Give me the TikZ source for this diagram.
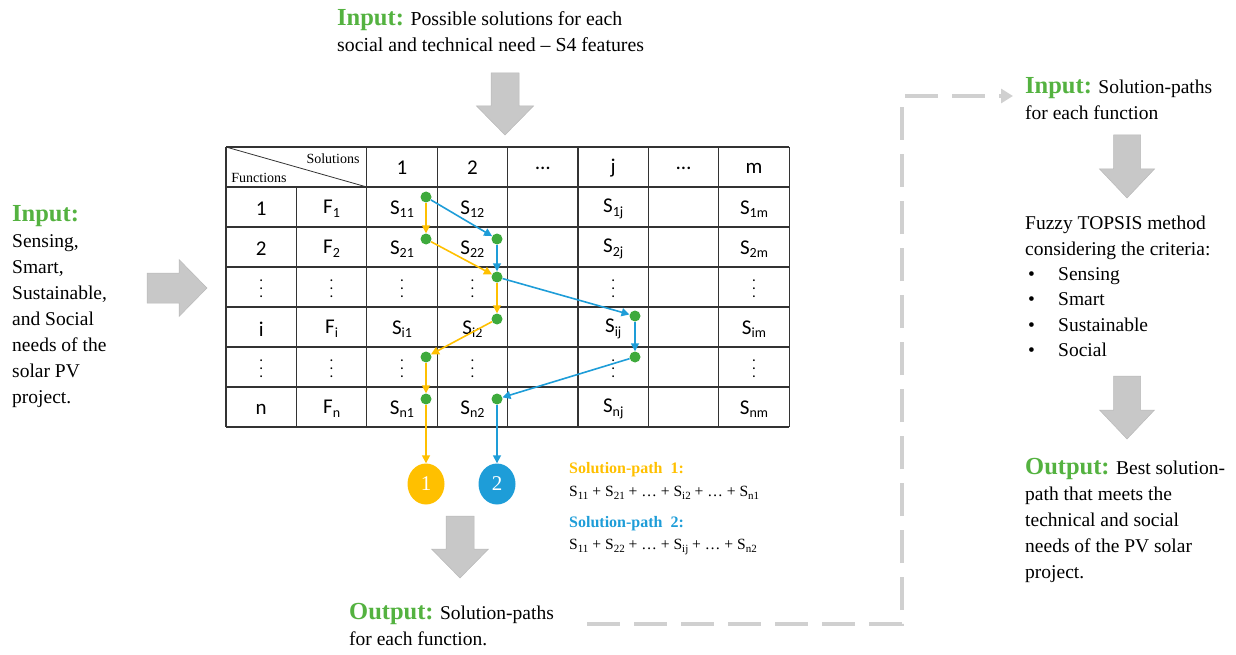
\documentclass[tikz,border=0pt]{standalone}
\usepackage{fontspec}
\setmainfont{Liberation Serif}
\newfontfamily\tablefont{Carlito}
\usepackage{tikz}
\usetikzlibrary{positioning,calc,arrows.meta,shapes.geometric}

\definecolor{ingreen}{RGB}{84,178,64}
\definecolor{dotgreen}{RGB}{62,170,60}
\definecolor{pathyellow}{RGB}{255,192,0}
\definecolor{pathblue}{RGB}{30,157,216}
\definecolor{arrowgray}{RGB}{200,200,200}
\definecolor{dashgray}{RGB}{208,208,208}

% subscripts in the table and in the legend
\newcommand{\tsub}[1]{\raisebox{-3.5pt}{\fontsize{14}{14}\selectfont #1}}
\newcommand{\lsub}[1]{\raisebox{-3pt}{\fontsize{11}{11}\selectfont #1}}
\newcommand{\vd}{{\fontsize{15}{15}\selectfont\vbox{\baselineskip=8pt\lineskiplimit=0pt\hbox{.}\hbox{.}\hbox{.}}}}
\newcommand{\hd}[1]{{\fontsize{24.5}{26}\selectfont\bfseries\color{ingreen}#1}}
\newcommand{\bul}{\hspace{3pt}\makebox[30pt][l]{\textbullet}}

\tikzset{
  body/.style={anchor=north west, inner sep=0pt, align=left, font=\fontsize{19.5}{26}\selectfont},
  cell/.style={inner sep=0pt, font=\tablefont\fontsize{21}{21}\selectfont},
  gridline/.style={draw=black!80, line width=1.2pt},
  pathdot/.style={circle, fill=dotgreen, inner sep=0pt, minimum size=11pt},
  ypath/.style={draw=pathyellow, line width=1.6pt, -{Triangle[length=8pt,width=8pt]}},
  bpath/.style={draw=pathblue, line width=1.6pt, -{Triangle[length=8pt,width=8pt]}},
  pathend/.style={ellipse, minimum width=37pt, minimum height=41pt, inner sep=0pt, text=white, font=\fontsize{21}{21}\selectfont},
  blockarrow/.style={fill=arrowgray, draw=gray!55, line width=0.5pt},
  dashlink/.style={draw=dashgray, line width=4pt, dash pattern=on 33pt off 14pt, -{Triangle[length=12pt,width=14pt]}},
}

\begin{document}
\begin{tikzpicture}[x=1pt, y=-1pt]
  \useasboundingbox (0,0) rectangle (1236,655);

  % Texts
  \node[body, font=\fontsize{19.8}{26}\selectfont] (topin) at (337,9.5) {\hd{Input:} Possible solutions for each\\social and technical need -- S4 features};
  \node[body] (leftin) at (12,205) {\hd{Input:}\\Sensing,\\Smart,\\Sustainable,\\and Social\\needs of the\\solar PV\\project.};
  \node[body] (botout) at (349,603) {\hd{Output:} Solution-paths\\for each function.};
  \node[body] (rin) at (1025,77) {\hd{Input:} Solution-paths\\for each function};
  \node[body, font=\fontsize{19.5}{25.4}\selectfont] (fuzzy) at (1025,216) {Fuzzy TOPSIS method\\considering the criteria:\\\bul Sensing\\\bul Smart\\\bul Sustainable\\\bul Social};
  \node[body] (rout) at (1025,458) {\hd{Output:} Best solution-\\path that meets the\\technical and social\\needs of the PV solar\\project.};

  % Block arrows
  \draw[blockarrow, shift={(505,73)}] (-14,0) -- (14,0) -- (14,33) -- (28.5,33) -- (0,62) -- (-28.5,33) -- (-14,33) -- cycle;
  \draw[blockarrow, shift={(147,288)}] (0,-15) -- (32,-15) -- (32,-28.5) -- (60,0) -- (32,28.5) -- (32,15) -- (0,15) -- cycle;
  \draw[blockarrow, shift={(460,516)}] (-14,0) -- (14,0) -- (14,33) -- (28.5,33) -- (0,62) -- (-28.5,33) -- (-14,33) -- cycle;
  \draw[blockarrow, shift={(1127,135)}] (-13.5,0) -- (13.5,0) -- (13.5,34) -- (27.5,34) -- (0,63) -- (-27.5,34) -- (-13.5,34) -- cycle;
  \draw[blockarrow, shift={(1127,376)}] (-13.5,0) -- (13.5,0) -- (13.5,34) -- (27.5,34) -- (0,63) -- (-27.5,34) -- (-13.5,34) -- cycle;

  % Dashed link to the fuzzy TOPSIS step
  \coordinate (dashstart) at (587,624);
  \coordinate (dashturn) at (902,96);
  \coordinate (dashend) at (1013,96);
  \draw[dashlink] (dashstart) -| (dashturn) -- (dashend);

  % Table
  \foreach \r in {0,...,7}
    \draw[gridline] (226,147+40*\r) -- (789.2,147+40*\r);
  \foreach \c in {0,2,3,4,5,6,7,8}
    \draw[gridline] (226+70.4*\c,147) -- (226+70.4*\c,427);
  \draw[gridline] (296.4,187) -- (296.4,427);
  \draw[black!80, line width=0.8pt] (226,147) -- (366.8,187);
  \node[font=\fontsize{14}{14}\selectfont] (solhd) at (333,159) {Solutions};
  \node[font=\fontsize{14}{14}\selectfont] (funhd) at (259,178) {Functions};

  \foreach \t [count=\c from 2] in {1,2,…,j,…,m}
    \node[cell] (h\c) at (261.2+70.4*\c,168) {\t};

  \foreach \n/\f/\sa/\sb/\sj/\sm [count=\r] in {
      1/F\tsub{1}/S\tsub{11}/S\tsub{12}/S\tsub{1j}/S\tsub{1m},
      2/F\tsub{2}/S\tsub{21}/S\tsub{22}/S\tsub{2j}/S\tsub{2m},
      \vd/\vd/\vd/\vd/\vd/\vd,
      i/F\tsub{i}/S\tsub{i1}/S\tsub{i2}/S\tsub{ij}/S\tsub{im},
      \vd/\vd/\vd/\vd/\vd/\vd,
      n/F\tsub{n}/S\tsub{n1}/S\tsub{n2}/S\tsub{nj}/S\tsub{nm}} {
    \node[cell] (n\r) at (261.2,169+40*\r) {\n};
    \node[cell] (f\r) at (331.6,169+40*\r) {\f};
    \node[cell] (sa\r) at (402,169+40*\r) {\sa};
    \node[cell] (sb\r) at (472.4,169+40*\r) {\sb};
    \node[cell] (sj\r) at (613.2,169+40*\r) {\sj};
    \node[cell] (sm\r) at (754,169+40*\r) {\sm};
  }

  % Solution-path dots
  \node[pathdot] (d11) at (426,197) {};
  \node[pathdot] (d21) at (426,239) {};
  \node[pathdot] (d22) at (497,239) {};
  \node[pathdot] (d32) at (497,277) {};
  \node[pathdot] (di2) at (497,319) {};
  \node[pathdot] (dij) at (635,316) {};
  \node[pathdot] (d51) at (426,357) {};
  \node[pathdot] (d5j) at (635,357) {};
  \node[pathdot] (dn1) at (426,399) {};
  \node[pathdot] (dn2) at (497,399) {};

  \node[pathend, fill=pathyellow] (end1) at (426,484) {1};
  \node[pathend, fill=pathblue] (end2) at (497,484) {2};

  % Path 1
  \draw[ypath] (d11) -- (d21);
  \draw[ypath] (d21) -- (d32);
  \draw[ypath] (d32) -- (di2);
  \draw[ypath] (di2) -- (d51);
  \draw[ypath] (d51) -- (dn1);
  \draw[ypath] (dn1) -- (end1);
  % Path 2
  \draw[bpath] (d11) -- (d22);
  \draw[bpath] (d22) -- (d32);
  \draw[bpath] (d32) -- (dij);
  \draw[bpath] (dij) -- (d5j);
  \draw[bpath] (d5j) -- (dn2);
  \draw[bpath] (dn2) -- (end2);

  % Legend
  \node[anchor=west, inner sep=0pt, text=pathyellow, font=\fontsize{16}{16}\selectfont\bfseries] (leg1) at (569,470) {Solution-path\ \ 1:};
  \node[anchor=west, inner sep=0pt, font=\fontsize{15.6}{16}\selectfont] (sum1) at (569,493) {S\lsub{11} + S\lsub{21} + … + S\lsub{i2} + … + S\lsub{n1}};
  \node[anchor=west, inner sep=0pt, text=pathblue, font=\fontsize{16}{16}\selectfont\bfseries] (leg2) at (569,524) {Solution-path\ \ 2:};
  \node[anchor=west, inner sep=0pt, font=\fontsize{15.6}{16}\selectfont] (sum2) at (569,547) {S\lsub{11} + S\lsub{22} + … + S\lsub{ij} + … + S\lsub{n2}};
\end{tikzpicture}
\end{document}
